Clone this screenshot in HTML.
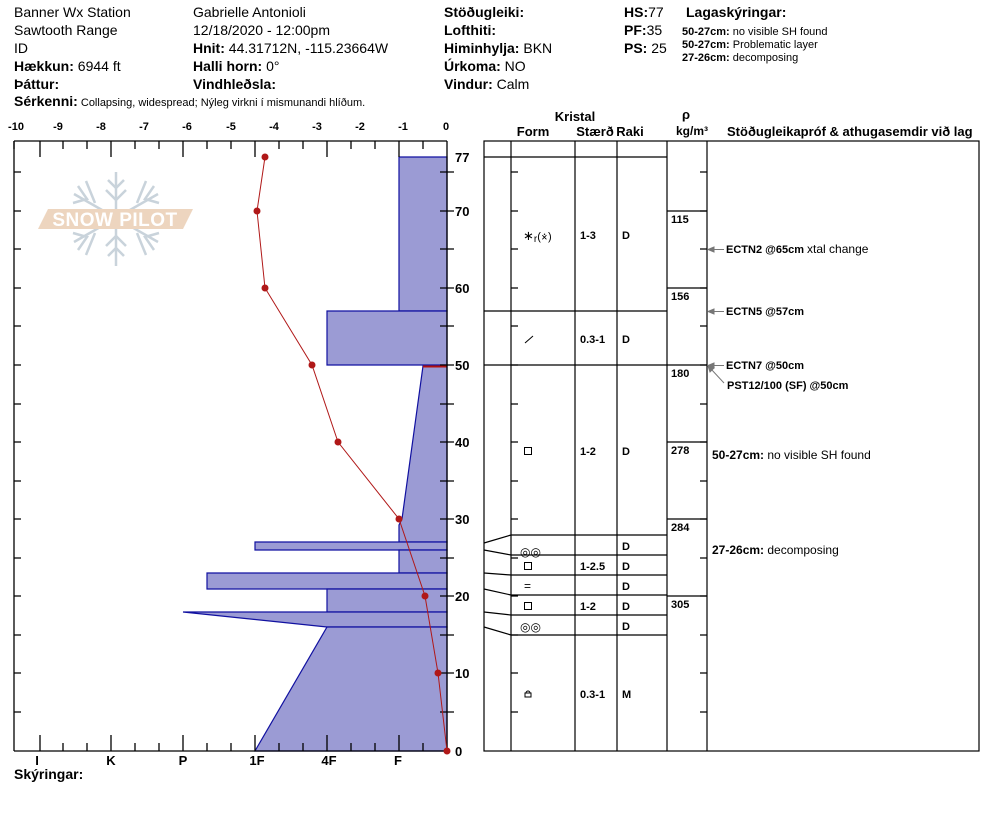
<!DOCTYPE html>
<html><head><meta charset="utf-8"><style>
body{margin:0;background:#fff;}
svg{display:block;font-family:"Liberation Sans",Arial,sans-serif;}
.b{font-weight:bold}
</style></head><body>
<svg width="994" height="840" viewBox="0 0 994 840" xmlns="http://www.w3.org/2000/svg">
<g font-size="14" fill="#000">
<text x="14" y="17">Banner Wx Station</text>
<text x="14" y="35">Sawtooth Range</text>
<text x="14" y="53">ID</text>
<text x="14" y="71"><tspan class="b">Hækkun:</tspan> 6944 ft</text>
<text x="14" y="89" class="b">Þáttur:</text>
<text x="193" y="17">Gabrielle Antonioli</text>
<text x="193" y="35">12/18/2020 - 12:00pm</text>
<text x="193" y="53"><tspan class="b">Hnit:</tspan> 44.31712N, -115.23664W</text>
<text x="193" y="71"><tspan class="b">Halli horn:</tspan> 0°</text>
<text x="193" y="89" class="b">Vindhleðsla:</text>
<text x="444" y="17" class="b">Stöðugleiki:</text>
<text x="444" y="35" class="b">Lofthiti:</text>
<text x="444" y="53"><tspan class="b">Himinhylja:</tspan> BKN</text>
<text x="444" y="71"><tspan class="b">Úrkoma:</tspan> NO</text>
<text x="444" y="89"><tspan class="b">Vindur:</tspan>  Calm</text>
<text x="624" y="17"><tspan class="b">HS:</tspan>77</text>
<text x="624" y="35"><tspan class="b">PF:</tspan>35</text>
<text x="624" y="53"><tspan class="b">PS:</tspan> 25</text>
<text x="686" y="17" class="b">Lagaskýringar:</text>
</g>
<g font-size="11">
<text x="682" y="35"><tspan class="b">50-27cm:</tspan> no visible SH found</text>
<text x="682" y="48"><tspan class="b">50-27cm:</tspan> Problematic layer</text>
<text x="682" y="61"><tspan class="b">27-26cm:</tspan>  decomposing</text>
<text x="14" y="106"><tspan class="b" font-size="14">Sérkenni:</tspan> Collapsing, widespread;  Nýleg virkni í mismunandi hlíðum.</text>
</g>
<g font-size="11" font-weight="bold" text-anchor="middle">
<text x="16" y="130">-10</text><text x="58" y="130">-9</text><text x="101" y="130">-8</text><text x="144" y="130">-7</text><text x="187" y="130">-6</text><text x="231" y="130">-5</text><text x="274" y="130">-4</text><text x="317" y="130">-3</text><text x="360" y="130">-2</text><text x="403" y="130">-1</text><text x="446" y="130">0</text>
</g>
<!-- logo -->
<g stroke="#c9d3db" stroke-width="2.5" fill="none">
<line x1="116" y1="172" x2="116" y2="266"/>
<line x1="74" y1="194" x2="158" y2="242"/>
<line x1="74" y1="242" x2="158" y2="194"/>
<path d="M108 180 L116 188 L124 180 M106 190 L116 200 L126 190 M108 256 L116 248 L124 256 M106 246 L116 236 L126 246"/>
<path d="M78 186 L87 199 L73 203 M86 181 L95 203 M154 186 L145 199 L159 203 M146 181 L137 203 M78 250 L87 237 L73 233 M86 255 L95 233 M154 250 L145 237 L159 233 M146 255 L137 233"/>
</g>
<polygon points="48,209 193,209 183,229 38,229" fill="#edd5bf"/>
<text x="115" y="226" font-size="19" font-weight="bold" fill="#fff" text-anchor="middle" letter-spacing="0.5">SNOW PILOT</text>
<!-- hardness profile -->
<g fill="#9b9bd4" stroke="#1010a0" stroke-width="1.2">
<polygon points="399,157 447,157 447,311 399,311"/>
<polygon points="327,311 447,311 447,365 327,365"/>
<polygon points="423,366 447,366 447,542 399,542 399,525 402,519"/>
<polygon points="255,542 447,542 447,550 255,550"/>
<polygon points="399,550 447,550 447,573 399,573"/>
<polygon points="207,573 447,573 447,589 207,589"/>
<polygon points="327,589 447,589 447,612 327,612"/>
<polygon points="183,612 447,612 447,627 327,627"/>
<polygon points="327,627 447,627 447,751 255,751"/>
</g>
<line x1="423" y1="366.5" x2="447" y2="366.5" stroke="#b01010" stroke-width="2"/>
<g stroke="#000" stroke-width="1.3" fill="none">
<line x1="14" y1="141" x2="447" y2="141"/>
<line x1="14" y1="751" x2="447" y2="751"/>
<line x1="14" y1="141" x2="14" y2="751"/>
<line x1="447" y1="141" x2="447" y2="751"/>
<path d="M14 141v8 M40 141v16 M63 141v8 M87 141v8 M111 141v16 M135 141v8 M159 141v8 M183 141v16 M207 141v8 M231 141v8 M255 141v16 M279 141v8 M303 141v8 M327 141v16 M351 141v8 M375 141v8 M399 141v16 M423 141v8"/>
<path d="M40 751v-16 M63 751v-8 M87 751v-8 M111 751v-16 M135 751v-8 M159 751v-8 M183 751v-16 M207 751v-8 M231 751v-8 M255 751v-16 M279 751v-8 M303 751v-8 M327 751v-16 M351 751v-8 M375 751v-8 M399 751v-16 M423 751v-8"/>
<path d="M14 172h7 M14 211h7 M14 249h7 M14 288h7 M14 326h7 M14 365h7 M14 404h7 M14 442h7 M14 481h7 M14 519h7 M14 558h7 M14 596h7 M14 635h7 M14 673h7 M14 712h7"/>
<path d="M440 172h14 M440 211h14 M440 249h14 M440 288h14 M440 326h14 M440 365h14 M440 404h14 M440 442h14 M440 481h14 M440 519h14 M440 558h14 M440 596h14 M440 635h14 M440 673h14 M440 712h14"/>
</g>
<polyline points="265,157 257,211 265,288 312,365 338,442 399,519 425,596 438,673 447,751" fill="none" stroke="#b01818" stroke-width="1"/>
<g fill="#b01818">
<circle cx="265" cy="157" r="3.5"/><circle cx="257" cy="211" r="3.5"/><circle cx="265" cy="288" r="3.5"/><circle cx="312" cy="365" r="3.5"/><circle cx="338" cy="442" r="3.5"/><circle cx="399" cy="519" r="3.5"/><circle cx="425" cy="596" r="3.5"/><circle cx="438" cy="673" r="3.5"/><circle cx="447" cy="751" r="3.5"/>
</g>
<g font-size="13" font-weight="bold" text-anchor="middle">
<text x="37" y="765">I</text><text x="111" y="765">K</text><text x="183" y="765">P</text><text x="257" y="765">1F</text><text x="329" y="765">4F</text><text x="398" y="765">F</text>
</g>
<text x="14" y="779" font-size="14" font-weight="bold">Skýringar:</text>
<g font-size="13" font-weight="bold">
<text x="455" y="162">77</text><text x="455" y="216">70</text><text x="455" y="293">60</text><text x="455" y="370">50</text><text x="455" y="447">40</text><text x="455" y="524">30</text><text x="455" y="601">20</text><text x="455" y="678">10</text><text x="455" y="756">0</text>
</g>
<g font-size="13" font-weight="bold" text-anchor="middle">
<text x="575" y="121">Kristal</text>
<text x="533" y="136">Form</text>
<text x="595" y="136">Stærð</text>
<text x="630" y="136">Raki</text>
<text x="686" y="119">ρ</text>
<text x="692" y="135" font-size="12">kg/m³</text>
</g>
<text x="727" y="136" font-size="13" font-weight="bold">Stöðugleikapróf &amp; athugasemdir við lag</text>
<g stroke="#000" stroke-width="1.2" fill="none">
<rect x="484" y="141" width="495" height="610"/>
<path d="M511 141V751 M575 141V751 M617 141V751 M667 141V751 M707 141V751"/>
<path d="M484 157H667 M484 311H667 M484 365H667"/>
<path d="M511 535H667 M511 555H667 M511 575H667 M511 595H667 M511 615H667 M511 635H667"/>
<path d="M484 543L511 535 M484 550L511 555 M484 573L511 575 M484 589L511 595 M484 612L511 615 M484 627L511 635"/>
<path d="M667 211H707 M667 288H707 M667 365H707 M667 442H707 M667 519H707 M667 596H707"/>
<path d="M511 172h7 M511 211h7 M511 249h7 M511 288h7 M511 326h7 M511 365h7 M511 404h7 M511 442h7 M511 481h7 M511 519h7 M511 558h7 M511 596h7 M511 635h7 M511 673h7 M511 712h7"/>
<path d="M707 172h-7 M707 211h-7 M707 249h-7 M707 288h-7 M707 326h-7 M707 365h-7 M707 404h-7 M707 442h-7 M707 481h-7 M707 519h-7 M707 558h-7 M707 596h-7 M707 635h-7 M707 673h-7 M707 712h-7"/>
</g>
<g font-size="11" font-weight="bold">
<text x="671" y="223">115</text><text x="671" y="300">156</text><text x="671" y="377">180</text><text x="671" y="454">278</text><text x="671" y="531">284</text><text x="671" y="608">305</text>
<text x="580" y="239">1-3</text><text x="622" y="239">D</text>
<text x="580" y="343">0.3-1</text><text x="622" y="343">D</text>
<text x="580" y="455">1-2</text><text x="622" y="455">D</text>
<text x="622" y="550">D</text>
<text x="580" y="570">1-2.5</text><text x="622" y="570">D</text>
<text x="622" y="590">D</text>
<text x="580" y="610">1-2</text><text x="622" y="610">D</text>
<text x="622" y="630">D</text>
<text x="580" y="698">0.3-1</text><text x="622" y="698">M</text>
</g>
<g font-size="13">
<text x="523" y="240">∗<tspan font-size="10" dy="2">r</tspan><tspan dy="-2" font-size="11">(</tspan><tspan font-size="12">⨰</tspan><tspan font-size="11">)</tspan></text>
<text x="520" y="556" font-size="12">◎◎</text>
<text x="520" y="631" font-size="12">◎◎</text>
<text x="524" y="590" font-size="12">=</text>
</g>
<g stroke="#000" fill="none" stroke-width="1">
<line x1="525" y1="343" x2="533" y2="336"/>
<rect x="524.5" y="447.5" width="7" height="7"/>
<rect x="524.5" y="562.5" width="7" height="7"/>
<rect x="524.5" y="602.5" width="7" height="7"/>
<path d="M525 697v-4h6v4z M526 693a2 2 0 0 1 4 0"/>
</g>
<g stroke="#777" stroke-width="1" fill="#777">
<line x1="712" y1="249.5" x2="724" y2="249.5"/><polygon points="708,249.5 714,247 714,252"/>
<line x1="712" y1="311.5" x2="724" y2="311.5"/><polygon points="708,311.5 714,309 714,314"/>
<line x1="712" y1="365.5" x2="724" y2="365.5"/><polygon points="708,365.5 714,363 714,368"/>
<line x1="711" y1="369" x2="724" y2="383"/><polygon points="708,366 714,368 710,372"/>
</g>
<g font-size="11">
<text x="726" y="253"><tspan font-weight="bold">ECTN2 @65cm</tspan>  <tspan font-size="12">xtal change</tspan></text>
<text x="726" y="315" font-weight="bold">ECTN5 @57cm</text>
<text x="726" y="369" font-weight="bold">ECTN7 @50cm</text>
<text x="727" y="389" font-weight="bold">PST12/100 (SF) @50cm</text>
<text x="712" y="459" font-size="12"><tspan font-weight="bold">50-27cm:</tspan> no visible SH found</text>
<text x="712" y="554" font-size="12"><tspan font-weight="bold">27-26cm:</tspan>  decomposing</text>
</g>
</svg>
</body></html>
